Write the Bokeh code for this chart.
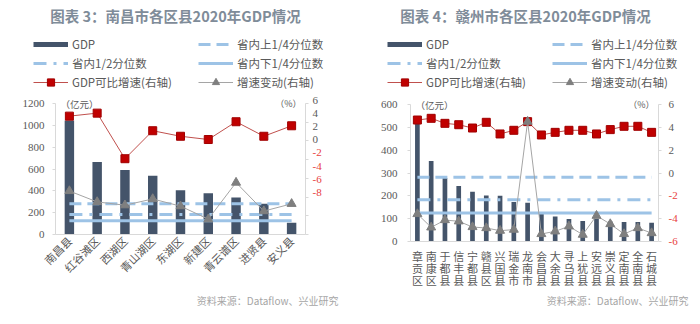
import math
from bokeh.plotting import figure
from bokeh.models import (FactorRange, Range1d, LinearAxis, FixedTicker, Label,
                          Legend, LegendItem, Span)
from bokeh.layouts import row, column
from bokeh.core.properties import value
from bokeh.embed import file_html
from bokeh.resources import INLINE

# ---------------- data ----------------
nc_title = "图表 3：南昌市各区县2020年GDP情况"
nc_districts = ["南昌县", "红谷滩区", "西湖区", "青山湖区", "东湖区",
                "新建区", "青云谱区", "进贤县", "安义县"]
nc_gdp = [1045, 664, 591, 539, 405, 378, 339, 282, 107]
nc_growth = [4.65, 4.97, 0.1, 3.09, 2.5, 2.15, 4.05, 2.5, 3.62]
nc_change = [-3.35, -4.52, -4.87, -4.2, -4.97, -6.36, -2.45, -5.5, -4.72]
nc_left_ticks = [0, 200, 400, 600, 800, 1000, 1200]
nc_right_ticks = [-8, -6, -4, -2, 0, 2, 4, 6]

gz_title = "图表 4：赣州市各区县2020年GDP情况"
gz_districts = ["章贡区", "南康区", "于都县", "信丰县", "宁都县", "赣县区",
                "兴国县", "瑞金市", "龙南市", "会昌县", "大余县", "寻乌县",
                "上犹县", "安远县", "崇义县", "定南县", "全南县", "石城县"]
gz_gdp = [521, 353, 278, 243, 218, 201, 200, 173, 170, 128, 109, 99, 90,
          100, 88, 85, 85, 82]
gz_growth = [4.64, 4.79, 4.35, 4.23, 3.94, 4.44, 3.42, 3.74, 4.5, 3.33, 3.56,
             3.74, 3.74, 3.42, 3.8, 4.09, 4.09, 3.56]
gz_change = [-3.59, -4.76, -4.12, -4.23, -4.73, -4.82, -5.05, -4.96, 4.5,
             -5.34, -5.11, -4.67, -5.4, -3.74, -4.47, -5.34, -4.82, -5.26]
gz_left_ticks = [0, 100, 200, 300, 400, 500, 600]
gz_right_ticks = [-6, -4, -2, 0, 2, 4, 6]

prov_upper_q = 281
prov_median = 183
prov_lower_q = 125

legend_labels = ["GDP", "省内上1/4分位数", "省内1/2分位数", "省内下1/4分位数",
                 "GDP可比增速(右轴)", "增速变动(右轴)"]
left_unit = "（亿元）"
right_unit = "（%）"
source_text = "资料来源：Dataflow、兴业研究"

# ---------------- style ----------------
BAR = "#44546A"
QCOL = "#9DC3E6"
RED_LINE = "#C0504D"
RED_FILL = "#C00000"
GRAY_LINE = "#A5A5A5"
GRAY_FILL = "#7F7F7F"
AXIS = "#D9D9D9"
TXT = "#595959"
NEG = "#E84040"
CJK = "Noto Sans CJK SC"
NUM = "Liberation Serif"
W, H = 350, 324
HEAD = 92          # header height
FOOT = 30          # footer height
BODY = H - HEAD - FOOT
DASH_UP = "12 6"
DASH_MD = "13 7 3 7"
NAN = [float("nan")]


def blank(width, height, xr, yr, ml=0, mr=0):
    f = figure(width=width, height=height, x_range=xr, y_range=yr,
               x_axis_type=None, y_axis_type=None, output_backend="svg",
               toolbar_location=None, tools="", min_border=0,
               min_border_left=ml, min_border_right=mr,
               min_border_top=0, min_border_bottom=0)
    f.outline_line_color = None
    f.background_fill_color = "white"
    f.border_fill_color = "white"
    return f


def header(title, legend_left):
    h = blank(W, HEAD, Range1d(0, W), Range1d(HEAD, 0))
    h.text(x=[W / 2], y=[15], text=[title], text_align="center",
           text_baseline="middle", text_font=value(CJK),
           text_font_size="14.5px", text_font_style="bold",
           text_color="#7F8C99")
    # legend keys (styled like the chart's series, no visible data)
    k0 = h.line(x=NAN, y=NAN, line_color=BAR, line_width=5)
    k1 = h.line(x=NAN, y=NAN, line_color=QCOL, line_width=3, line_dash=DASH_UP)
    k2 = h.line(x=NAN, y=NAN, line_color=QCOL, line_width=3, line_dash=DASH_MD)
    k3 = h.line(x=NAN, y=NAN, line_color=QCOL, line_width=3)
    k4a = h.line(x=NAN, y=NAN, line_color=RED_LINE, line_width=1)
    k4b = h.scatter(x=NAN, y=NAN, marker="square", size=8, fill_color=RED_FILL,
                    line_color="#A00000")
    k5a = h.line(x=NAN, y=NAN, line_color=GRAY_LINE, line_width=1)
    k5b = h.scatter(x=NAN, y=NAN, marker="triangle", size=8,
                    fill_color=GRAY_FILL, line_color=GRAY_FILL)
    items = [
        LegendItem(label=legend_labels[0], renderers=[k0]),
        LegendItem(label=legend_labels[1], renderers=[k1]),
        LegendItem(label=legend_labels[2], renderers=[k2]),
        LegendItem(label=legend_labels[3], renderers=[k3]),
        LegendItem(label=legend_labels[4], renderers=[k4a, k4b]),
        LegendItem(label=legend_labels[5], renderers=[k5a, k5b]),
    ]
    leg = Legend(items=items, location=(legend_left, 1),
                 orientation="horizontal", ncols=2,
                 glyph_width=35, glyph_height=18, label_standoff=4,
                 label_width=125, spacing=1, padding=0, margin=0,
                 border_line_color=None, background_fill_alpha=0,
                 label_text_font=CJK, label_text_font_size="11.5px",
                 label_text_color=TXT)
    h.add_layout(leg, "center")
    return h


def footer(src_right):
    f = blank(W, FOOT, Range1d(0, W), Range1d(H, H - FOOT))
    f.text(x=[src_right], y=[300], text=[source_text], text_align="right",
           text_baseline="middle", text_font=value(CJK),
           text_font_size="10px", text_color="#A6A6A6")
    return f


def main_chart(cats, gdp, growth, change, lticks, rticks, frame, bottom_px,
               stacked, lstand):
    FL, FT, FR, FB = frame
    ltop = lticks[-1]
    rlo, rhi = rticks[0], rticks[-1]
    n = len(cats)
    pad = 2 if stacked else 0          # px of frame below the zero line
    lpp = ltop / (FB - FT)             # left units per px
    rpp = (rhi - rlo) / (FB - FT)      # right units per px
    p = figure(width=FR + 5, height=bottom_px - HEAD,
               x_range=FactorRange(factors=cats),
               y_range=Range1d(lticks[0] - pad * lpp, (FB - HEAD) * lpp),
               x_axis_location=None if stacked else "below",
               min_border_left=FL, min_border_right=5,
               min_border_top=0, min_border_bottom=bottom_px - FB - pad,
               output_backend="svg", toolbar_location=None, tools="")
    p.extra_y_ranges = {"r": Range1d(rlo - pad * rpp,
                                     rlo + (FB - HEAD) * rpp)}
    p.outline_line_color = None
    p.xgrid.visible = False
    p.ygrid.visible = False
    p.background_fill_color = "white"
    p.border_fill_color = "white"

    ya = p.yaxis[0]
    ya.ticker = FixedTicker(ticks=lticks)
    ya.bounds = (lticks[0], ltop)
    ya.axis_line_color = AXIS
    ya.major_tick_line_color = AXIS
    ya.major_tick_out = 3
    ya.major_tick_in = 0
    ya.minor_tick_line_color = None
    ya.major_label_standoff = lstand
    ya.major_label_text_font = NUM
    ya.major_label_text_font_size = "11px"
    ya.major_label_text_color = TXT

    # right axis: line and tick marks (its labels are in the strip beside it)
    ra = LinearAxis(y_range_name="r",
                    ticker=FixedTicker(ticks=[], minor_ticks=rticks),
                    bounds=(rlo, rhi))
    ra.axis_line_color = AXIS
    ra.minor_tick_line_color = AXIS
    ra.minor_tick_out = 3
    ra.minor_tick_in = 0
    ra.major_tick_line_color = None
    p.add_layout(ra, "right")

    if stacked:
        p.add_layout(Span(location=lticks[0], dimension="width",
                          line_color=AXIS, line_width=1))
    else:
        xa = p.xaxis[0]
        xa.axis_line_color = AXIS
        xa.major_tick_line_color = None
        xa.major_tick_out = 0
        xa.major_tick_in = 0
        xa.minor_tick_line_color = None
        xa.major_label_text_font = CJK
        xa.major_label_text_color = TXT
        xa.major_label_text_font_size = "11px"
        xa.major_label_orientation = math.pi / 4
        xa.major_label_standoff = 4

    p.vbar(x=cats, top=gdp, width=0.34, fill_color=BAR, line_color=None)
    p.line(x=[cats[0], cats[-1]], y=[prov_upper_q, prov_upper_q],
           line_color=QCOL, line_width=3, line_dash=DASH_UP)
    p.line(x=[cats[0], cats[-1]], y=[prov_median, prov_median],
           line_color=QCOL, line_width=3, line_dash=DASH_MD)
    p.line(x=[cats[0], cats[-1]], y=[prov_lower_q, prov_lower_q],
           line_color=QCOL, line_width=3)
    p.line(x=cats, y=growth, y_range_name="r", line_color=RED_LINE,
           line_width=1)
    p.scatter(x=cats, y=growth, y_range_name="r", marker="square", size=8,
              fill_color=RED_FILL, line_color="#A00000")
    p.line(x=cats, y=change, y_range_name="r", line_color=GRAY_LINE,
           line_width=1)
    p.scatter(x=cats, y=change, y_range_name="r", marker="triangle", size=9,
              fill_color=GRAY_FILL, line_color=GRAY_FILL)

    p.add_layout(Label(x=0, y=ltop, text=left_unit, x_offset=5,
                       text_align="left", text_baseline="middle",
                       text_font=CJK, text_font_size="9.5px", text_color=TXT))
    p.add_layout(Label(x=n, y=ltop, text=right_unit, x_offset=-4,
                       text_align="right", text_baseline="middle",
                       text_font=CJK, text_font_size="9px", text_color=TXT))
    return p


def right_strip(rticks, frame, x_left_px, label_x):
    FL, FT, FR, FB = frame
    rlo, rhi = rticks[0], rticks[-1]
    per_px = (rhi - rlo) / (FB - FT)
    y_bot = rlo - (H - FOOT - FB) * per_px
    y_top = rlo + (FB - HEAD) * per_px
    s = blank(W - x_left_px, BODY, Range1d(x_left_px, W), Range1d(y_bot, y_top))
    s.text(x=[label_x] * len(rticks), y=rticks,
           text=[str(t) for t in rticks],
           text_color=[NEG if t < 0 else TXT for t in rticks],
           text_align="left", text_baseline="middle",
           text_font=value(NUM), text_font_size="11px")
    return s


# ---------------- chart 3 ----------------
F1 = (55, 103, 305, 234)
m1 = main_chart(nc_districts, nc_gdp, nc_growth, nc_change, nc_left_ticks,
                nc_right_ticks, F1, H - FOOT, False, 8)
s1 = right_strip(nc_right_ticks, F1, F1[2] + 5, F1[2] + 7)
panel1 = column(header(nc_title, 33), row(m1, s1), footer(338))

# ---------------- chart 4 ----------------
F2 = (60, 104, 308, 241)
MB2 = 247
m2 = main_chart(gz_districts, gz_gdp, gz_growth, gz_change, gz_left_ticks,
                gz_right_ticks, F2, MB2, True, 10)
xl = blank(F2[2] + 5, H - FOOT - MB2, m2.x_range, Range1d(H - FOOT, MB2),
           ml=F2[0], mr=5)
xl.text(x=gz_districts, y=[MB2] * len(gz_districts),
        text=["\n".join(c) for c in gz_districts], text_align="center",
        text_baseline="top", text_font=value(CJK), text_font_size="11px",
        text_line_height=0.75, text_color=TXT)
s2 = right_strip(gz_right_ticks, F2, F2[2] + 5, F2[2] + 10)
panel2 = column(header(gz_title, 37), row(column(m2, xl), s2), footer(338))

layout = row(panel1, panel2)
open("out.html", "w").write(file_html(layout, INLINE))
